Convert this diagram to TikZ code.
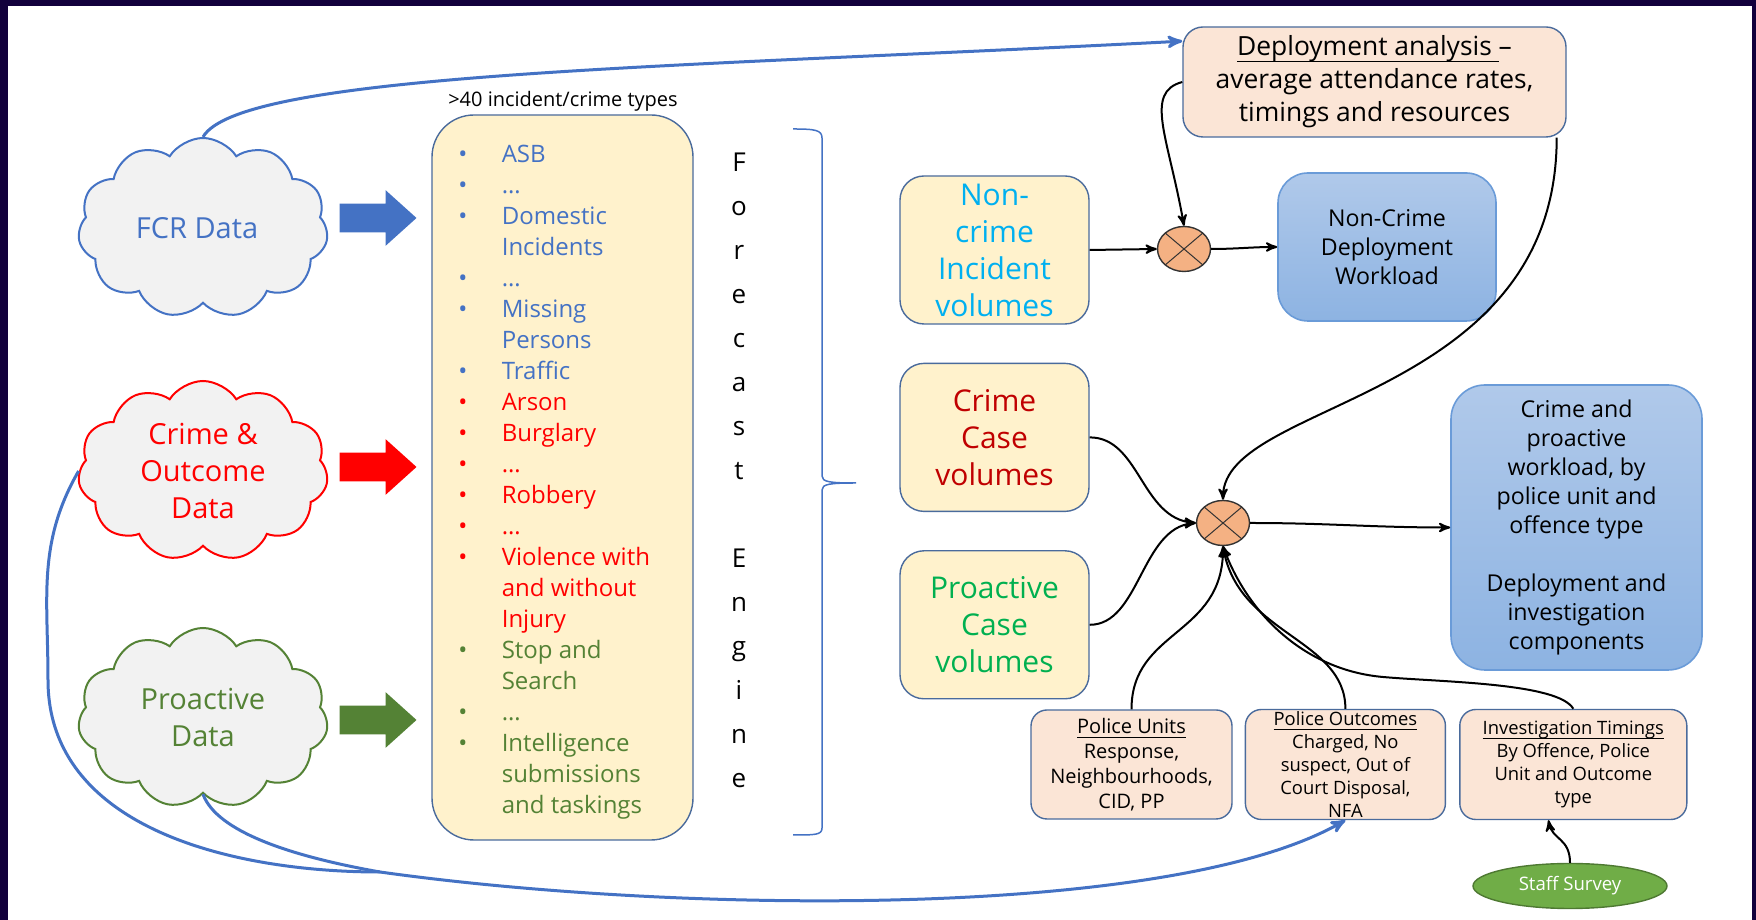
\documentclass[tikz,border=0pt]{standalone}
\usepackage{fontspec}
\setmainfont{Open Sans}
\usetikzlibrary{arrows, positioning, shapes.geometric, shapes.symbols, shapes.arrows}

\definecolor{frame}{HTML}{12003C}
\definecolor{fcrblue}{HTML}{4472C4}
\definecolor{crimered}{HTML}{FF0000}
\definecolor{progreen}{HTML}{548235}
\definecolor{cloudgray}{HTML}{F2F2F2}
\definecolor{paleyellow}{HTML}{FFF2CC}
\definecolor{palepink}{HTML}{FBE5D6}
\definecolor{boxedge}{HTML}{4A6B9C}
\definecolor{skyblue}{HTML}{00B0F0}
\definecolor{darkred}{HTML}{C00000}
\definecolor{brightgreen}{HTML}{00B050}
\definecolor{multorange}{HTML}{F4B183}
\definecolor{bluetop}{HTML}{B0C9EA}
\definecolor{bluebottom}{HTML}{8DB3E2}
\definecolor{blueedge}{HTML}{6A9BD8}
\definecolor{staffgreen}{HTML}{70AD47}

\newcommand{\typeitem}[2]{\textcolor{#1}{\makebox[21.7pt][l]{\textbullet}#2}}
\newcommand{\typecont}[2]{\textcolor{#1}{\hspace*{21.7pt}#2}}
\newcommand{\ulined}[1]{\setbox0\hbox{#1}\rlap{\raisebox{-0.25em}{\rule{\wd0}{0.07em}}}\box0}

\tikzset{
        >=stealth', % office like arrow heads
        link/.style={->, line width=1pt, black}, % black connectors
        blue link/.style={line width=1.5pt, fcrblue}, % blue feedback lines
    }
\tikzset{
      data cloud/.style={
        cloud, cloud puffs=11, cloud puff arc=115, cloud ignores aspect,
        draw=#1, text=#1, fill=cloudgray, line width=1pt,
        minimum width=125pt, minimum height=90pt,
        align=center, font=\fontsize{14.5}{18.5}\selectfont,
      },
      feed arrow/.style={
        single arrow, fill=#1, draw=none, inner xsep=0pt, inner ysep=7pt,
        minimum width=27.5pt, minimum height=38.5pt,
        single arrow head extend=6.75pt, single arrow tip angle=84,
      },
      vol box/.style={
        rounded corners=12pt, fill=paleyellow, draw=boxedge, line width=0.7pt,
        minimum width=94.5pt, minimum height=74pt, text=#1,
        align=center, font=\fontsize{15}{18.5}\selectfont,
      },
      blue box/.style={
        rounded corners=15pt, top color=bluetop, bottom color=bluebottom,
        draw=blueedge, line width=0.8pt,
        align=center, font=\fontsize{11.6}{14.5}\selectfont,
      },
      pink box/.style={
        rounded corners=8pt, fill=palepink, draw=boxedge, line width=0.7pt,
        inner sep=1pt, align=center,
      },
      mult/.style={
        ellipse, minimum width=26.5pt, minimum height=22.5pt, inner sep=0pt,
        fill=multorange, draw=black!80, line width=0.7pt,
        path picture={\draw[line width=0.5pt]
          (path picture bounding box.north west) -- (path picture bounding box.south east)
          (path picture bounding box.north east) -- (path picture bounding box.south west);},
      },
  	}

\begin{document}
\begin{tikzpicture}[x=0.5pt, y=0.5pt, node distance=19pt]
    \useasboundingbox (0,0) rectangle (1756,920);
    \fill[frame] (0,0) rectangle (1756,920);
    \fill[white] (8,0) rectangle (1752,914);

    % data sources
    \node[data cloud=fcrblue] (fcr) at (203,692) {FCR Data\hspace*{6pt}};
    \node[data cloud=crimered] (crime) at (203,449) {Crime \&\\Outcome\\Data};
    \node[data cloud=progreen] (pro) at (203,202) {Proactive\\Data};
    \node[feed arrow=fcrblue] (fcr arrow) at (370,702) {};
    \node[feed arrow=crimered] (crime arrow) at (370,453) {};
    \node[feed arrow=progreen] (pro arrow) at (370,200) {};

    % forecast engine
    \node[rounded corners=21pt, fill=paleyellow, draw=boxedge, line width=0.7pt,
          minimum width=130.5pt, minimum height=362.5pt] (engine) at (562.5,442.5) {};
    \node[font=\fontsize{10}{12}\selectfont] (types label) at (563,819) {>40 incident/crime types};
    \node[anchor=west, inner sep=0pt, align=left, font=\fontsize{12}{15.5}\selectfont] (types) at (458,438) {%
      \typeitem{fcrblue}{ASB}\\
      \typeitem{fcrblue}{…}\\
      \typeitem{fcrblue}{Domestic}\\
      \typecont{fcrblue}{Incidents}\\
      \typeitem{fcrblue}{…}\\
      \typeitem{fcrblue}{Missing}\\
      \typecont{fcrblue}{Persons}\\
      \typeitem{fcrblue}{Traffic}\\
      \typeitem{crimered}{Arson}\\
      \typeitem{crimered}{Burglary}\\
      \typeitem{crimered}{…}\\
      \typeitem{crimered}{Robbery}\\
      \typeitem{crimered}{…}\\
      \typeitem{crimered}{Violence with}\\
      \typecont{crimered}{and without}\\
      \typecont{crimered}{Injury}\\
      \typeitem{progreen}{Stop and}\\
      \typecont{progreen}{Search}\\
      \typeitem{progreen}{…}\\
      \typeitem{progreen}{Intelligence}\\
      \typecont{progreen}{submissions}\\
      \typecont{progreen}{and taskings}};
    \node[align=center, font=\fontsize{13}{22}\selectfont] (forecast) at (739,450)
      {F\\o\\r\\e\\c\\a\\s\\t\\\mbox{}\\E\\n\\g\\i\\n\\e};
    \draw[fcrblue, line width=0.75pt] (793,791) .. controls (815,791) and (822,790) .. (822,782)
      -- (822,444) .. controls (822,438) and (830,437) .. (856,437)
      .. controls (830,437) and (822,436) .. (822,430)
      -- (822,92) .. controls (822,85) and (815,85) .. (793,85);

    % volumes and workloads
    \node[vol box=skyblue] (noncrime) at (994.5,670) {Non-\\crime\\Incident\\volumes};
    \node[vol box=darkred, below=of noncrime] (crimecase) {Crime\\Case\\volumes};
    \node[vol box=brightgreen, below=of crimecase] (procase) {Proactive\\Case\\volumes};
    \node[mult] (top mult) at (1184,671) {};
    \node[mult] (bottom mult) at (1223,397) {};
    \node[blue box, minimum width=109pt, minimum height=74pt] (ncwork) at (1387,673)
      {Non-Crime\\Deployment\\Workload};
    \node[pink box, rounded corners=10pt, minimum width=191.5pt, minimum height=55pt,
          font=\fontsize{13.2}{16.5}\selectfont] (dep) at (1374.5,838)
      {\ulined{Deployment analysis }–\\average attendance rates,\\timings and resources};
    \node[blue box, rounded corners=17pt, minimum width=125.5pt, minimum height=142.5pt] (workload) at (1576.5,392.5)
      {Crime and\\proactive\\workload, by\\police unit and\\offence type\\[14.5pt]Deployment and\\investigation\\components};

    % inputs
    \node[pink box, minimum width=100.5pt, minimum height=54.5pt,
          font=\fontsize{10}{12.5}\selectfont] (units) at (1131.5,155.5)
      {\ulined{Police Units}\\Response,\\Neighbourhoods,\\CID, PP};
    \node[pink box, minimum width=100pt, minimum height=54.5pt, right=6pt of units,
          font=\fontsize{9.2}{11.5}\selectfont] (outcomes)
      {\ulined{Police Outcomes}\\Charged, No\\suspect, Out of\\Court Disposal,\\NFA};
    \node[pink box, minimum width=113.5pt, minimum height=55pt, right=6.5pt of outcomes,
          font=\fontsize{9.2}{11.5}\selectfont] (timings)
      {\ulined{Investigation Timings}\\By Offence, Police\\Unit and Outcome\\type};
    \node[ellipse, fill=staffgreen, draw=staffgreen!70!black, line width=0.7pt, text=white,
          minimum width=97pt, minimum height=22.5pt, inner sep=0pt,
          font=\fontsize{9.3}{11}\selectfont] (survey) at (1570,34) {Staff Survey};

    % connectors
    \coordinate (merge) at (380,48);
    \coordinate (crime bend) at (48,240);
    \coordinate (timing bend) at (1383,243);
    \draw[blue link, ->] (fcr.north) .. controls +(60:75) and +(183:500) .. (dep.168);
    \draw[blue link] (crime.west) .. controls +(-120:83) and +(90:83) .. (crime bend)
      .. controls +(-90:148) and +(180:148) .. (merge);
    \draw[blue link, ->] (pro.south) .. controls +(-70:40) and +(170:90) .. (merge)
      .. controls +(-8:300) and +(-150:200) .. (outcomes.south);
    \draw[link] (dep.west) .. controls +(-165:40) and +(100:90) .. (top mult.north);
    \draw[link] (noncrime.east) -- (top mult.west);
    \draw[link] (top mult.east) to[out=0, in=180] (ncwork.west);
    \draw[link] (dep.-17) .. controls +(0,-265) and +(0,100) .. (bottom mult.north);
    \draw[link] (crimecase.east) .. controls +(0:50) and +(175:55) .. (bottom mult.west);
    \draw[link] (procase.east) .. controls +(0:50) and +(185:55) .. (bottom mult.west);
    \draw[link] (bottom mult.east) to[out=0, in=180] (workload.west);
    \draw[link] (units.north) .. controls +(90:80) and +(-90:90) .. (bottom mult.south);
    \draw[link] (outcomes.north) .. controls +(90:70) and +(-80:90) .. (bottom mult.south);
    \draw[link] (timings.north) .. controls +(120:30) and +(-5:60) .. (timing bend)
      .. controls +(175:80) and +(-70:70) .. (bottom mult.south);
    \draw[link] (survey.north) .. controls +(90:25) and +(-80:20) .. (timings.-114);
\end{tikzpicture}
\end{document}
